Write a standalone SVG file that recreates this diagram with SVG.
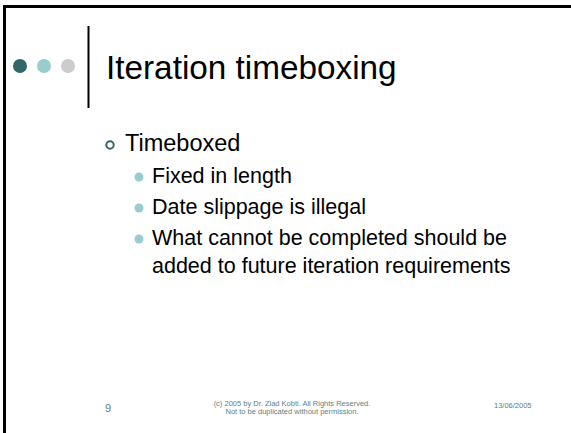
<svg xmlns="http://www.w3.org/2000/svg" width="571" height="433" viewBox="0 0 571 433">
<style>
.t{font-family:"Liberation Sans",Arial,sans-serif;fill:#000}
.f{font-family:"Liberation Sans",Arial,sans-serif;fill:#5f7f7f}
</style>
<rect width="571" height="433" fill="#fff"/>
<g id="frame">
<line x1="4.5" y1="6.5" x2="571" y2="6.5" stroke="#000" stroke-width="3"/>
<line x1="4.5" y1="5" x2="4.5" y2="433" stroke="#000" stroke-width="3"/>
</g>
<g id="dots">
<circle cx="20" cy="66" r="7" fill="#336666"/>
<circle cx="44" cy="66" r="7" fill="#99cccc"/>
<circle cx="68" cy="66" r="7" fill="#cccccc"/>
<line x1="88.5" y1="26" x2="88.5" y2="108" stroke="#000" stroke-width="2"/>
</g>
<g id="title">
<text class="t" x="106" y="79" font-size="33.3">Iteration timeboxing</text>
</g>
<g id="body">
<circle cx="110" cy="145" r="3.7" fill="none" stroke="#336666" stroke-width="2"/>
<text class="t" x="125" y="151" font-size="23.5">Timeboxed</text>
<circle cx="139" cy="177" r="4.5" fill="#99cccc"/>
<text class="t" x="152" y="183" font-size="21.5">Fixed in length</text>
<circle cx="139" cy="208" r="4.5" fill="#99cccc"/>
<text class="t" x="152" y="214" font-size="21.5">Date slippage is illegal</text>
<circle cx="139" cy="239" r="4.5" fill="#99cccc"/>
<text class="t" x="152" y="245" font-size="21.5">What cannot be completed should be</text>
<text class="t" x="152" y="273" font-size="21.5">added to future iteration requirements</text>
</g>
<g id="footer">
<text class="f" x="105" y="412" font-size="11">9</text>
<text class="f" x="292" y="406" font-size="7.5" text-anchor="middle">(c) 2005 by Dr. Ziad Kobti. All Rights Reserved.</text>
<text class="f" x="292" y="414" font-size="7.5" text-anchor="middle">Not to be duplicated without permission.</text>
<text class="f" x="494" y="408" font-size="7.5">13/06/2005</text>
</g>
</svg>
